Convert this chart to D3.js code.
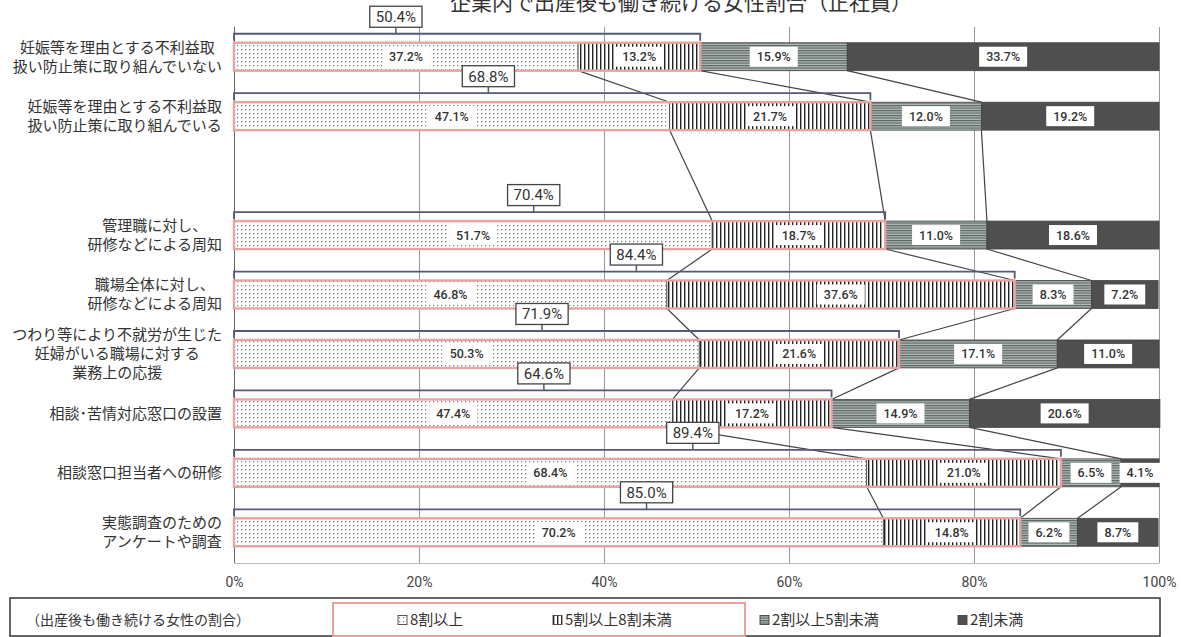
<!DOCTYPE html>
<html>
<head>
<meta charset="utf-8">
<script src="https://cdn.jsdelivr.net/npm/d3@7"></script>
<style>
  body { margin: 0; background: #fff; }
  svg { display: block; }
</style>
</head>
<body>
<svg width="1181" height="637"></svg>
<script>
var title = "企業内で出産後も働き続ける女性割合（正社員）";
var categories = [
  "妊娠等を理由とする不利益取\n扱い防止策に取り組んでいない",
  "妊娠等を理由とする不利益取\n扱い防止策に取り組んでいる",
  "管理職に対し、\n研修などによる周知",
  "職場全体に対し、\n研修などによる周知",
  "つわり等により不就労が生じた\n妊婦がいる職場に対する\n業務上の応援",
  "相談･苦情対応窓口の設置",
  "相談窓口担当者への研修",
  "実態調査のための\nアンケートや調査"
];
var seriesNames = ["8割以上", "5割以上8割未満", "2割以上5割未満", "2割未満"];
var over80 = [37.2, 47.1, 51.7, 46.8, 50.3, 47.4, 68.4, 70.2];
var from50to80 = [13.2, 21.7, 18.7, 37.6, 21.6, 17.2, 21.0, 14.8];
var from20to50 = [15.9, 12.0, 11.0, 8.3, 17.1, 14.9, 6.5, 6.2];
var under20 = [33.7, 19.2, 18.6, 7.2, 11.0, 20.6, 4.1, 8.7];
var totals = [50.4, 68.8, 70.4, 84.4, 71.9, 64.6, 89.4, 85.0];
// where each total callout sits, in axis units
var totalLabelAt = [17.5, 27.5, 32.4, 43.5, 33.3, 33.5, 49.6, 44.6];
var xTicks = [0, 20, 40, 60, 80, 100];
var legendNote = "（出産後も働き続ける女性の割合）";

var svg = d3.select("svg");
var jp = "'Noto Sans CJK JP', 'Noto Sans', sans-serif";
var num = "Roboto, 'Noto Sans', sans-serif";

var plotTop = 27, plotBottom = 563;

// fill patterns
var defs = svg.append("defs");
var p = defs.append("pattern").attr("id", "dots").attr("patternUnits", "userSpaceOnUse")
    .attr("width", 4).attr("height", 4);
p.append("rect").attr("width", 4).attr("height", 4).attr("fill", "#fff");
p.append("rect").attr("x", 1).attr("y", 1).attr("width", 1.2).attr("height", 1.2).attr("fill", "#777");

p = defs.append("pattern").attr("id", "vstripe").attr("patternUnits", "userSpaceOnUse")
    .attr("width", 4).attr("height", 4);
p.append("rect").attr("width", 4).attr("height", 4).attr("fill", "#fff");
p.append("rect").attr("x", 0).attr("width", 1.4).attr("height", 4).attr("fill", "#222");

p = defs.append("pattern").attr("id", "hstripe").attr("patternUnits", "userSpaceOnUse")
    .attr("width", 4).attr("height", 2.5);
p.append("rect").attr("width", 4).attr("height", 2.5).attr("fill", "#b3bcb9");
p.append("rect").attr("y", 0).attr("width", 4).attr("height", 1.2).attr("fill", "#5a6764");

var fills = ["url(#dots)", "url(#vstripe)", "url(#hstripe)", "#4f4f4f"];

var x = d3.scaleLinear().domain([0, 100]).range([234, 1159]);

// blank slot between the 2nd and 3rd rows
var yDomain = categories.slice(0, 2).concat(["_gap"], categories.slice(2));
var y = d3.scaleBand().domain(yDomain).range([plotTop, plotBottom - 1])
    .paddingInner(0.53).paddingOuter(0.265);
var bw = y.bandwidth();

var rows = categories.map(function(c, i) {
  return { cat: c, v: [over80[i], from50to80[i], from20to50[i], under20[i]],
           total: totals[i], at: totalLabelAt[i] };
});
var stack = d3.stack().keys([0, 1, 2, 3]).value(function(d, k) { return d.v[k]; });
var series = stack(rows);

// title (cut at the top edge as in the source)
svg.append("text")
  .attr("x", 681).attr("y", 10)
  .attr("text-anchor", "middle")
  .style("font-family", jp).style("font-size", "21px").style("fill", "#333")
  .text(title);

// axis with gridlines
var axis = svg.append("g")
  .attr("transform", "translate(0," + plotBottom + ")")
  .call(d3.axisBottom(x).tickValues(xTicks)
    .tickFormat(function(d) { return d + "%"; })
    .tickSize(-(plotBottom - plotTop)).tickSizeOuter(0).tickPadding(14));
axis.select(".domain").attr("stroke", "#bbb");
axis.selectAll(".tick line").attr("stroke", function(d) { return d === 0 ? "#666" : "#999"; });
axis.selectAll(".tick text")
  .style("font-family", num).style("font-size", "14px").style("fill", "#444");

// connector lines between neighbouring bars
var links = [];
for (var i = 0; i < rows.length - 1; i++) {
  for (var k = 0; k < 3; k++) {
    links.push({
      x1: x(series[k][i][1]), y1: y(rows[i].cat) + bw,
      x2: x(series[k][i + 1][1]), y2: y(rows[i + 1].cat)
    });
  }
}
svg.append("g").selectAll("line").data(links).enter().append("line")
  .attr("x1", function(d) { return d.x1; })
  .attr("y1", function(d) { return d.y1; })
  .attr("x2", function(d) { return d.x2; })
  .attr("y2", function(d) { return d.y2; })
  .attr("stroke", "#444").attr("stroke-width", 1.2);

// stacked segments
var layer = svg.append("g").selectAll("g").data(series).enter().append("g");
layer.selectAll("rect").data(function(s) { return s.map(function(d) { return { d: d, k: s.key }; }); })
  .enter().append("rect")
  .attr("x", function(o) { return x(o.d[0]); })
  .attr("y", function(o) { return y(o.d.data.cat); })
  .attr("width", function(o) { return x(o.d[1]) - x(o.d[0]); })
  .attr("height", bw)
  .attr("fill", function(o) { return fills[o.k]; })
  .attr("stroke", "#444").attr("stroke-width", 0.8);

// pink frame around the first two segments
svg.append("g").selectAll("rect").data(rows).enter().append("rect")
  .attr("x", x(0))
  .attr("y", function(d) { return y(d.cat); })
  .attr("width", function(d) { return x(d.v[0] + d.v[1]) - x(0); })
  .attr("height", bw)
  .attr("fill", "none").attr("stroke", "#eaa3a3").attr("stroke-width", 2.4);

// segment value labels
var vl = svg.append("g").selectAll("g").data(series).enter().append("g")
  .selectAll("g").data(function(s) { return s; }).enter().append("g")
  .attr("transform", function(d) {
    return "translate(" + x((d[0] + d[1]) / 2) + "," + (y(d.data.cat) + bw / 2) + ")";
  });
vl.append("rect").attr("class", "bg").attr("fill", "#fff");
vl.append("text")
  .attr("text-anchor", "middle").attr("dy", "0.36em")
  .style("font-family", num).style("font-size", "12.5px").style("font-weight", "500").style("fill", "#333")
  .text(function(d) { return (d[1] - d[0]).toFixed(1) + "%"; });
vl.each(function() {
  var g = d3.select(this);
  var w = g.select("text").node().getComputedTextLength() + 14;
  g.select("rect.bg").attr("x", -w / 2).attr("y", -10).attr("width", w).attr("height", 20);
});

// brackets with total labels
var br = svg.append("g").selectAll("g").data(rows).enter().append("g");
br.append("path")
  .attr("d", function(d) {
    var t = y(d.cat);
    return "M" + x(0) + "," + (t - 2) + "V" + (t - 9) + "H" + x(d.total) + "V" + (t - 2);
  })
  .attr("fill", "none").attr("stroke", "#565a74").attr("stroke-width", 1.8);
br.append("line")
  .attr("x1", function(d) { return x(d.at); })
  .attr("x2", function(d) { return x(d.at); })
  .attr("y1", function(d) { return y(d.cat) - 9; })
  .attr("y2", function(d) { return y(d.cat) - 16; })
  .attr("stroke", "#565a74").attr("stroke-width", 1.5);
var tl = br.append("g")
  .attr("transform", function(d) {
    return "translate(" + x(d.at) + "," + (y(d.cat) - 26) + ")";
  });
tl.append("rect").attr("class", "bg")
  .attr("fill", "#fff").attr("stroke", "#444").attr("stroke-width", 1.3);
tl.append("text")
  .attr("text-anchor", "middle").attr("dy", "0.36em")
  .style("font-family", num).style("font-size", "15px").style("fill", "#333")
  .text(function(d) { return d.total.toFixed(1) + "%"; });
tl.each(function() {
  var g = d3.select(this);
  var w = g.select("text").node().getComputedTextLength() + 12;
  g.select("rect.bg").attr("x", -w / 2).attr("y", -10.5).attr("width", w).attr("height", 21);
});

// category labels: lines centred on each other, block right-aligned
var lab = svg.append("g").selectAll("g").data(rows).enter().append("g");
lab.each(function(d) {
  var g = d3.select(this);
  var lines = d.cat.split("\n");
  var cy = y(d.cat) + bw / 2;
  var lh = 19;
  var t = g.selectAll("text").data(lines).enter().append("text")
    .attr("y", function(s, j) { return cy + (j - (lines.length - 1) / 2) * lh; })
    .attr("dy", "0.36em")
    .attr("text-anchor", "middle")
    .style("font-family", jp).style("font-size", "15px").style("fill", "#333")
    .text(function(s) { return s; });
  var maxW = 0;
  t.each(function() { maxW = Math.max(maxW, this.getComputedTextLength()); });
  t.attr("x", 222 - maxW / 2);
});

// legend
var lg = svg.append("g");
lg.append("rect").attr("x", 10).attr("y", 598).attr("width", 1150).attr("height", 38)
  .attr("fill", "#fff").attr("stroke", "#333").attr("stroke-width", 1.5);
lg.append("rect").attr("x", 333).attr("y", 603).attr("width", 412).attr("height", 33)
  .attr("fill", "none").attr("stroke", "#e8a0a0").attr("stroke-width", 2);
lg.append("text").attr("x", 26).attr("y", 620).attr("dy", "0.36em")
  .style("font-family", jp).style("font-size", "14px").style("fill", "#333")
  .text(legendNote);
var legX = [398, 553, 760, 958];
var li = lg.selectAll("g.li").data(seriesNames).enter().append("g")
  .attr("class", "li")
  .attr("transform", function(d, i) { return "translate(" + legX[i] + ",620)"; });
li.append("rect").attr("x", 0).attr("y", -4.5).attr("width", 9).attr("height", 9)
  .attr("fill", function(d, i) { return fills[i]; })
  .attr("stroke", "#444").attr("stroke-width", 0.9);
li.append("text").attr("x", 12).attr("dy", "0.36em")
  .style("font-family", jp).style("font-size", "15px").style("fill", "#333")
  .text(function(d) { return d; });
</script>
</body>
</html>
